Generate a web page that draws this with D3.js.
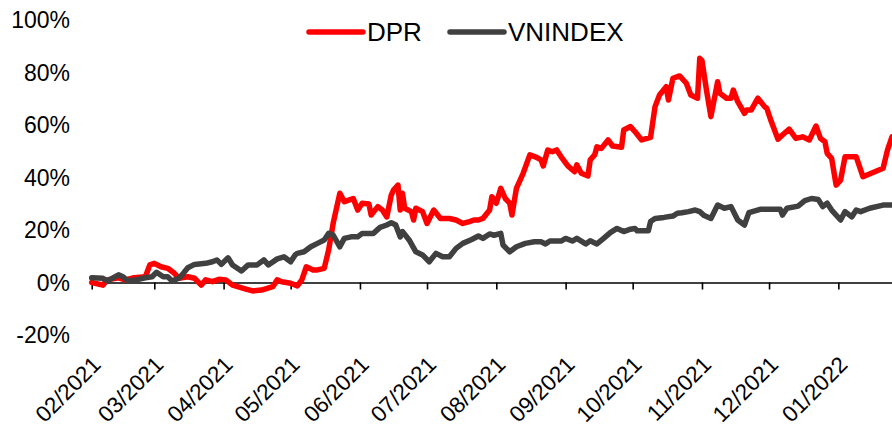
<!DOCTYPE html>
<html>
<head>
<meta charset="utf-8">
<script src="https://cdn.jsdelivr.net/npm/d3@7"></script>
<style>
  html, body { margin: 0; padding: 0; background: #fff; }
  svg { display: block; font-family: Arial, "Liberation Sans", sans-serif; }
</style>
</head>
<body>
<svg id="chart" width="892" height="426"></svg>
<script>
// ---- Data (cumulative return, %) ----
const seriesNames = ["DPR", "VNINDEX"];
const seriesColors = ["#ff0000", "#404040"];

const dprDates = ["2021-02-01","2021-02-06","2021-02-08","2021-02-13","2021-02-16","2021-02-20","2021-02-25","2021-02-27",
  "2021-03-01","2021-03-04","2021-03-07","2021-03-10","2021-03-12","2021-03-16","2021-03-19","2021-03-22","2021-03-24","2021-03-27","2021-03-30",
  "2021-04-02","2021-04-05","2021-04-11","2021-04-14","2021-04-18","2021-04-23","2021-04-25","2021-04-27",
  "2021-05-01","2021-05-04","2021-05-06","2021-05-08","2021-05-11","2021-05-13","2021-05-16","2021-05-18","2021-05-20","2021-05-23","2021-05-25","2021-05-27","2021-05-29","2021-05-31",
  "2021-06-02","2021-06-05","2021-06-06","2021-06-09","2021-06-11","2021-06-13","2021-06-15","2021-06-16","2021-06-18","2021-06-19","2021-06-20","2021-06-21","2021-06-24","2021-06-25","2021-06-26","2021-06-29",
  "2021-07-01","2021-07-04","2021-07-07","2021-07-11","2021-07-14","2021-07-17","2021-07-20","2021-07-22","2021-07-24","2021-07-26","2021-07-29","2021-07-30",
  "2021-08-01","2021-08-03","2021-08-05","2021-08-07","2021-08-08","2021-08-09","2021-08-10","2021-08-13","2021-08-16","2021-08-19","2021-08-21","2021-08-22","2021-08-24","2021-08-26","2021-08-28","2021-08-30",
  "2021-09-02","2021-09-05","2021-09-06","2021-09-08","2021-09-11","2021-09-12","2021-09-14","2021-09-15","2021-09-17","2021-09-20","2021-09-22","2021-09-26","2021-09-27","2021-09-30",
  "2021-10-02","2021-10-05","2021-10-09","2021-10-11","2021-10-13","2021-10-16","2021-10-17","2021-10-19","2021-10-22","2021-10-25","2021-10-27","2021-10-30","2021-10-31",
  "2021-11-01","2021-11-03","2021-11-05","2021-11-08","2021-11-09","2021-11-12","2021-11-14","2021-11-15","2021-11-17","2021-11-20","2021-11-21","2021-11-23","2021-11-26","2021-11-29","2021-11-30",
  "2021-12-02","2021-12-05","2021-12-07","2021-12-10","2021-12-13","2021-12-16","2021-12-19","2021-12-22","2021-12-24","2021-12-26","2021-12-27","2021-12-29","2021-12-31",
  "2022-01-02","2022-01-04","2022-01-09","2022-01-12","2022-01-21","2022-01-23","2022-01-25"];
const dprValues = [0,-1,1,1.8,1,1.8,2.2,6.7,
  7.3,6,5.4,3.5,1.6,2.2,1.6,-1,1,0.3,1.2,
  1,-1,-2.5,-3.2,-2.9,-1.6,1,0.3,
  -0.3,-1.3,1,6,4.8,4.8,5.4,12.4,22.5,34,30.8,31.4,32,27.6,
  30.2,29.9,25.7,28.9,27.6,25,33.3,35.2,37.1,27.6,34,28.3,27,23.8,28.3,27,
  22.5,27.6,24.4,24.4,23.8,22.5,23.2,23.8,23.8,24.4,27.6,32.7,
  30.2,35.9,32,30.2,25.7,30.8,35.9,41.6,48.6,47.7,46.7,44.4,50.5,49.8,50.5,47.9,
  44.4,42.2,44.8,41.6,40.6,46.7,48.6,51.7,51.1,54.3,52,51.5,58.1,59.4,
  57.5,54.3,55.3,67,71.4,74.6,69.5,77.8,78.7,75.9,71.4,70.2,85.4,
  84.5,73.3,63.2,76.5,72.1,70.2,70.2,73.3,68.9,64.4,65.7,65.7,70.2,67,66.3,
  61.3,54.6,56.2,58.4,54.9,55.5,54.3,59.6,54.9,53.6,49.2,47.3,37.1,
  39,47.9,47.9,40.3,43.5,50.5,55.5];

const vniDates = ["2021-02-01","2021-02-06","2021-02-08","2021-02-13","2021-02-15","2021-02-17","2021-02-21","2021-02-25","2021-02-28",
  "2021-03-02","2021-03-05","2021-03-07","2021-03-09","2021-03-12","2021-03-14","2021-03-16","2021-03-19","2021-03-24","2021-03-27","2021-03-29","2021-03-31",
  "2021-04-03","2021-04-05","2021-04-09","2021-04-12","2021-04-16","2021-04-19","2021-04-21","2021-04-25","2021-04-28",
  "2021-05-01","2021-05-03","2021-05-04","2021-05-07","2021-05-10","2021-05-13","2021-05-16","2021-05-18","2021-05-20","2021-05-23","2021-05-25","2021-05-28","2021-05-31",
  "2021-06-02","2021-06-07","2021-06-10","2021-06-13","2021-06-15","2021-06-17","2021-06-19","2021-06-20","2021-06-23","2021-06-26","2021-06-29",
  "2021-07-02","2021-07-05","2021-07-08","2021-07-11","2021-07-14","2021-07-17","2021-07-21","2021-07-24","2021-07-26","2021-07-29","2021-07-31",
  "2021-08-03","2021-08-04","2021-08-07","2021-08-10","2021-08-14","2021-08-18","2021-08-21","2021-08-23","2021-08-25","2021-08-30",
  "2021-09-01","2021-09-04","2021-09-06","2021-09-10","2021-09-12","2021-09-15","2021-09-18","2021-09-21","2021-09-24","2021-09-27","2021-09-30",
  "2021-10-02","2021-10-03","2021-10-08","2021-10-09","2021-10-11","2021-10-15","2021-10-19","2021-10-21","2021-10-23","2021-10-26","2021-10-29","2021-10-31",
  "2021-11-02","2021-11-05","2021-11-08","2021-11-11","2021-11-14","2021-11-17","2021-11-20","2021-11-22","2021-11-27",
  "2021-12-06","2021-12-07","2021-12-09","2021-12-14","2021-12-17","2021-12-20","2021-12-23","2021-12-25","2021-12-27","2021-12-29",
  "2022-01-02","2022-01-04","2022-01-07","2022-01-09","2022-01-11","2022-01-15","2022-01-21","2022-01-25"];
const vniValues = [1.8,1.6,0.6,2.9,2.2,0.7,1,1.8,2.2,
  3.9,2.2,2.2,0.6,1.6,3.5,5.6,6.9,7.3,7.9,8.6,6.9,
  9.4,6.7,4.4,6.7,6.7,8.6,6.7,9,9.8,
  7.9,10.5,11.1,11.7,13.6,14.9,16.2,18.7,18.1,13.6,16.8,17.4,17.4,
  18.7,18.7,21,21.9,22.8,21.9,17.4,19.4,16.2,11.7,10.5,
  7.9,11.1,9.8,9.8,13,14.9,16.4,17.7,16.8,18.5,18,
  18.7,14.3,11.7,13.6,14.9,15.5,15.5,14.7,15.8,15.8,
  16.8,15.8,16.8,14.7,15.9,14.7,16.8,19,20.6,19.4,20.3,
  20.6,19.7,19.7,23.2,24.4,24.8,25.3,26.4,26.6,27,27.6,27,
  25.5,24.4,29.5,28.3,28.9,23.8,21.9,26.6,27.9,
  27.9,25.7,28.3,29.1,31.2,32,31.6,28.9,30.2,27.6,
  23.8,27,25,27.6,27,28.3,29.5,29.5];

const xTickDates = ["2021-02-01","2021-03-01","2021-04-01","2021-05-01","2021-06-01","2021-07-01",
  "2021-08-01","2021-09-01","2021-10-01","2021-11-01","2021-12-01","2022-01-01"];
const yTickValues = [-20, 0, 20, 40, 60, 80, 100];
const xDomainDates = ["2021-02-01", "2022-01-25"];

// ---- Build ----
const parse = d3.timeParse("%Y-%m-%d");
const series = [
  dprDates.map((d, i) => ({ date: parse(d), value: dprValues[i] })),
  vniDates.map((d, i) => ({ date: parse(d), value: vniValues[i] }))
];

const svg = d3.select("#chart");
const x = d3.scaleTime().domain(xDomainDates.map(parse)).range([91.7, 892]);
const y = d3.scaleLinear().domain([-20, 100]).range([335, 20]);

// Y labels (no axis line)
svg.append("g").selectAll("text").data(yTickValues).join("text")
  .attr("x", 70).attr("y", d => y(d)).attr("dy", "0.36em")
  .attr("text-anchor", "end").attr("font-size", 23).attr("fill", "#000")
  .text(d => d + "%");

// X axis on the 0% line
const xAxis = d3.axisBottom(x)
  .tickValues(xTickDates.map(parse))
  .tickSize(7).tickSizeOuter(0)
  .tickFormat(d3.timeFormat("%m/%Y"));
const gx = svg.append("g").attr("transform", `translate(0,${y(0)})`).call(xAxis);
gx.select(".domain").attr("stroke", "#000").attr("stroke-width", 1.6);
gx.selectAll(".tick line").attr("stroke", "#000").attr("stroke-width", 1.6);
gx.selectAll(".tick text")
  .attr("font-size", 22.5).attr("fill", "#000")
  .attr("font-family", "Arial, 'Liberation Sans', sans-serif")
  .attr("text-anchor", "end")
  .attr("y", 0).attr("dy", 0)
  .attr("transform", `translate(10,${y(-20) - y(0) + 31}) rotate(-45)`);

// Lines
const line = d3.line().x(d => x(d.date)).y(d => y(d.value));
svg.append("g").selectAll("path").data(series).join("path")
  .attr("d", line)
  .attr("fill", "none")
  .attr("stroke", (d, i) => seriesColors[i])
  .attr("stroke-width", 5.5)
  .attr("stroke-linejoin", "round")
  .attr("stroke-linecap", "round");

// Legend
const legendX = [309, 450];
const lg = svg.append("g").selectAll("g").data(seriesNames).join("g")
  .attr("transform", (d, i) => `translate(${legendX[i]},32)`);
lg.append("line").attr("x1", 0).attr("x2", 54).attr("y1", 0).attr("y2", 0)
  .attr("stroke", (d, i) => seriesColors[i]).attr("stroke-width", 5.5).attr("stroke-linecap", "round");
lg.append("text").attr("x", 58).attr("y", 0).attr("dy", "0.36em")
  .attr("font-size", 26).attr("fill", "#000").text(d => d);
</script>
</body>
</html>
